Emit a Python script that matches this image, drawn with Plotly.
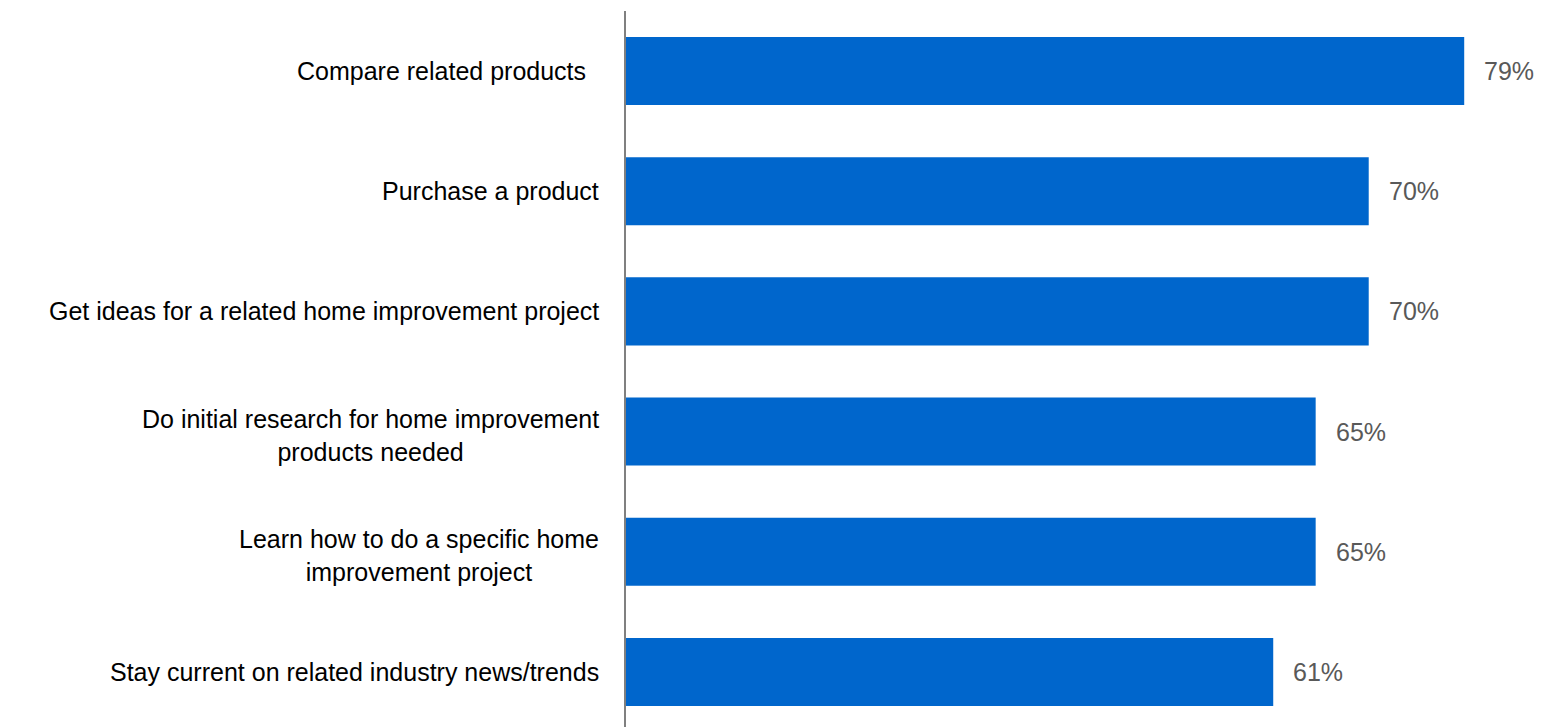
import plotly.graph_objects as go

# Survey responses: reasons for using home improvement content
categories = [
    "Compare related products",
    "Purchase a product",
    "Get ideas for a related home improvement project",
    "Do initial research for home improvement<br>products needed",
    "Learn how to do a specific home<br>improvement project",
    "Stay current on related industry news/trends",
]
values = [79, 70, 70, 65, 65, 61]
value_labels = [f"{v}%" for v in values]

BAR_COLOR = "#0066CC"
FONT_FAMILY = "Liberation Sans, Arial, sans-serif"
LABEL_FONT = dict(family=FONT_FAMILY, size=25, color="#000000")
VALUE_FONT = dict(family=FONT_FAMILY, size=25, color="#595959")

positions = list(range(len(categories)))

fig = go.Figure(
    go.Bar(
        x=values,
        y=positions,
        orientation="h",
        marker=dict(color=BAR_COLOR, line=dict(width=0)),
        width=0.566,
        hoverinfo="skip",
    )
)

annotations = []
for pos, cat in zip(positions, categories):
    two_line = "<br>" in cat
    extra = -13 if pos == 0 else 0
    annotations.append(dict(
        x=0, xref="paper", y=pos, yref="y",
        text=cat, showarrow=False,
        xanchor="right", yanchor="middle", align="center",
        xshift=-25 + extra, yshift=-4 if two_line else 0,
        font=LABEL_FONT,
    ))
for pos, v, lab in zip(positions, values, value_labels):
    annotations.append(dict(
        x=v, xref="x", y=pos, yref="y",
        text=lab, showarrow=False,
        xanchor="left", yanchor="middle",
        xshift=18, font=VALUE_FONT,
    ))

fig.update_layout(
    width=1544,
    height=727,
    margin=dict(l=626, r=0, t=11, b=0),
    paper_bgcolor="white",
    plot_bgcolor="white",
    showlegend=False,
    annotations=annotations,
    xaxis=dict(
        range=[0, 86.52],
        showgrid=False, zeroline=False, showline=False,
        showticklabels=False, ticks="",
    ),
    yaxis=dict(
        range=[5.458, -0.499],
        showgrid=False, zeroline=False,
        showline=True, linecolor="#808080", linewidth=2,
        showticklabels=False, ticks="",
    ),
)

fig.write_html("out.html")
